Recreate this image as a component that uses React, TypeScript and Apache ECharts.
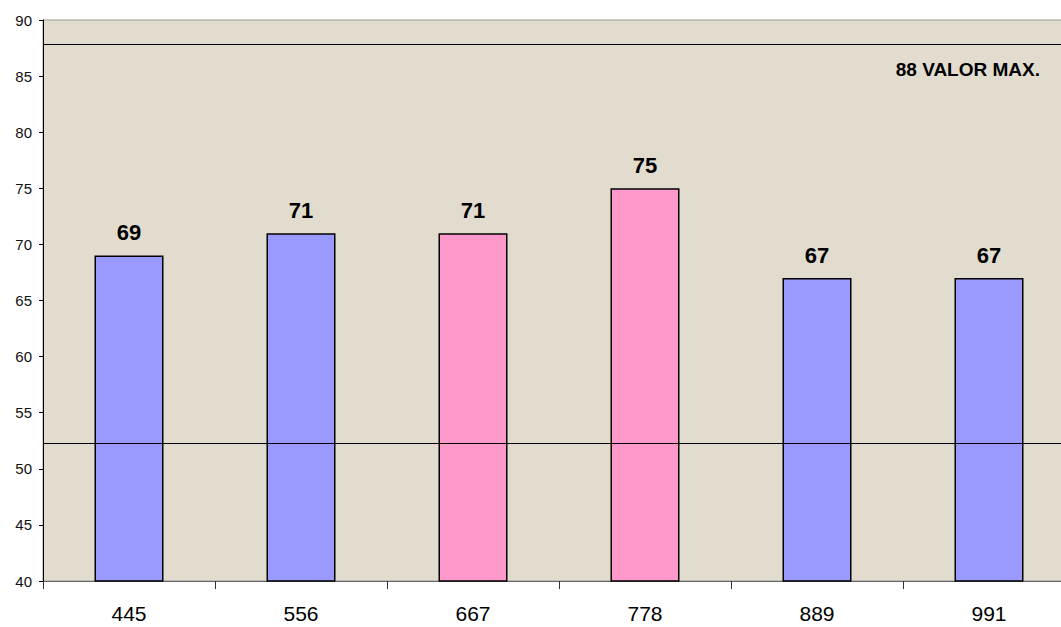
import React, { useEffect, useRef } from "react";
import * as echarts from "echarts";

const categories = ["445", "556", "667", "778", "889", "991"];
const values = [69, 71, 71, 75, 67, 67];
const barColors = ["#9999FF", "#9999FF", "#FF99CC", "#FF99CC", "#9999FF", "#9999FF"];
const maxLine = 87.8;
const minLine = 52.25;
const maxLabel = "88 VALOR MAX.";

export default function App() {
  const ref = useRef<HTMLDivElement>(null);
  useEffect(() => {
    if (!ref.current) return;
    const chart = echarts.init(ref.current, undefined, { renderer: "svg" });
    chart.setOption({
      animation: false,
      backgroundColor: "#ffffff",
      grid: { left: 43, top: 20, right: 0, height: 561, containLabel: false, show: true, backgroundColor: "#E2DCCF", borderColor: "#999999", borderWidth: 1 },
      xAxis: {
        type: "category",
        data: categories,
        axisLine: { show: true, lineStyle: { color: "#666666", width: 1 } },
        axisTick: { show: true, length: 8, lineStyle: { color: "#333333" } },
        axisLabel: { fontFamily: "Arial, 'Liberation Sans'", fontSize: 21, color: "#000000", margin: 22 },
      },
      yAxis: {
        type: "value",
        min: 40,
        max: 90,
        interval: 5,
        axisLine: { show: true, lineStyle: { color: "#000000", width: 1 } },
        axisTick: { show: true, length: 4, lineStyle: { color: "#000000" } },
        splitLine: { show: false },
        axisLabel: { fontFamily: "Arial, 'Liberation Sans'", fontSize: 15, color: "#111111", margin: 11 },
      },
      graphic: [
        {
          type: "text",
          right: 35,
          top: 60,
          style: { text: maxLabel, font: "bold 19px Arial, 'Liberation Sans'", fill: "#000000" },
        },
      ],
      series: [
        {
          type: "bar",
          barWidth: 69,
          data: values.map((v, i) => ({ value: v, itemStyle: { color: barColors[i] } })),
          itemStyle: { borderColor: "#000000", borderWidth: 1.5 },
          label: { show: true, position: "top", distance: 12, fontFamily: "Arial, 'Liberation Sans'", fontWeight: "bold", fontSize: 22, color: "#000000" },
          markLine: {
            silent: true,
            symbol: "none",
            label: { show: false },
            lineStyle: { color: "#000000", width: 1, type: "solid" },
            data: [{ yAxis: maxLine }, { yAxis: minLine }],
          },
        },
      ],
    });
    return () => chart.dispose();
  }, []);
  return (
    <div style={{ position: "absolute", left: 0, top: 0, width: 1061, height: 627, overflow: "hidden", background: "#fff" }}>
      <div ref={ref} style={{ width: 1075, height: 627 }} />
    </div>
  );
}
